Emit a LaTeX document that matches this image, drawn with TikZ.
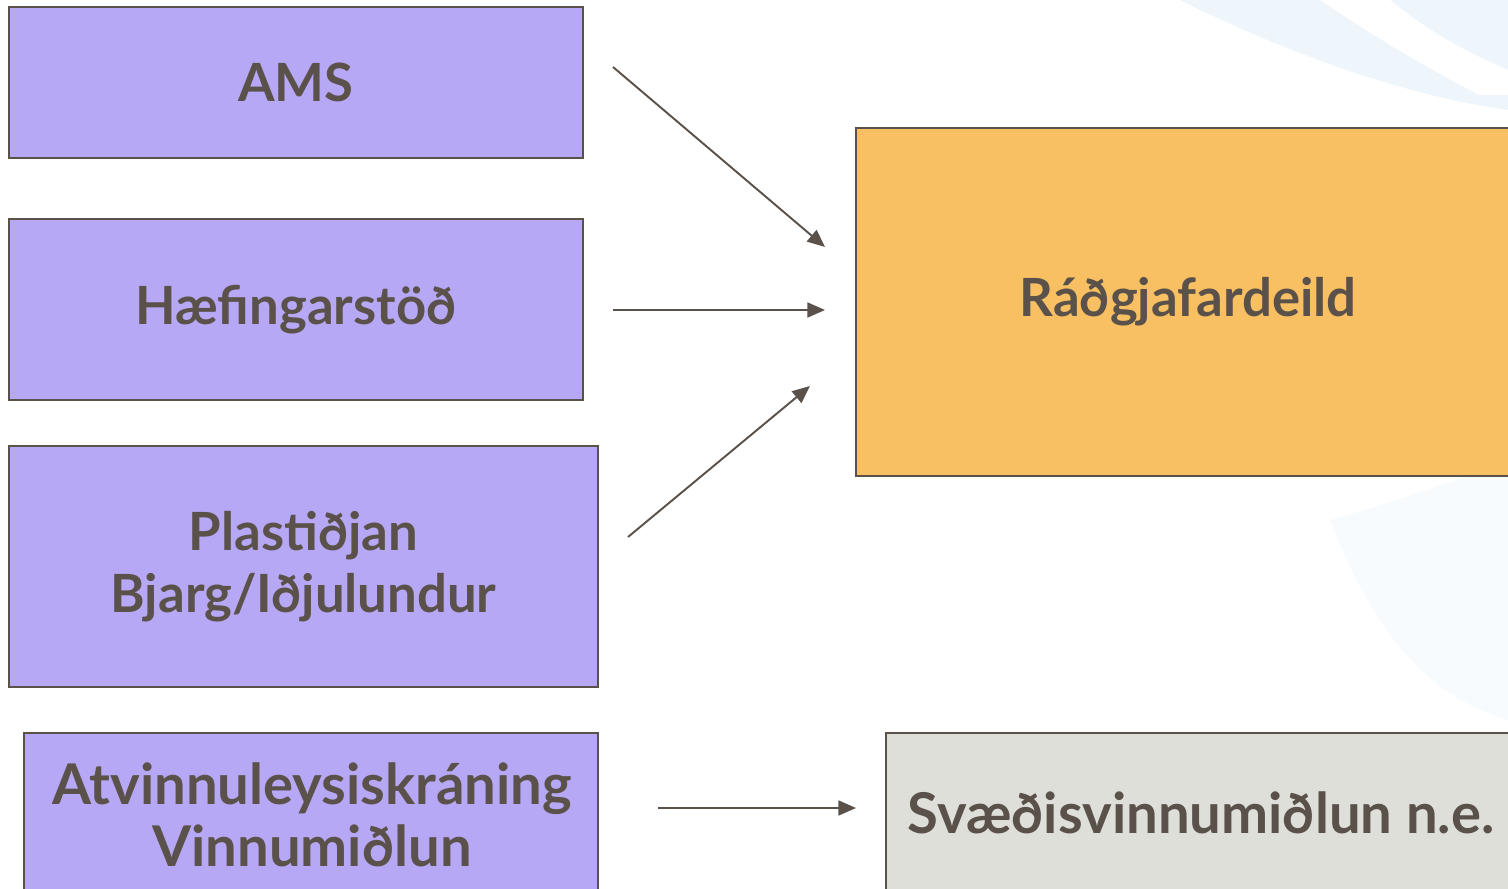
\documentclass[tikz,border=0pt]{standalone}
\usepackage{fontspec}
\setmainfont{Lato}
\usetikzlibrary{arrows.meta}
\definecolor{boxpurple}{HTML}{B7A8F5}
\definecolor{boxorange}{HTML}{F8C063}
\definecolor{boxgray}{HTML}{DFDFDA}
\definecolor{inkbrown}{HTML}{5A524A}
\definecolor{skyblue}{HTML}{EAF4FB}

\begin{document}
\begin{tikzpicture}[x=0.02cm,y=-0.02cm,
  box/.style={draw=inkbrown,line width=1.2pt,text=inkbrown,
    font=\bfseries\fontsize{30}{35}\selectfont,align=center,inner sep=0pt},
  link/.style={draw=inkbrown,line width=1.1pt,-{Triangle[length=10pt,width=8.5pt]}}]
  \useasboundingbox (0,0) rectangle (1508,889);
  \clip (0,0) rectangle (1508,889);
  % faint background
  \fill[skyblue!80] (1180,0) .. controls (1280,50) and (1400,95) .. (1508,110) -- (1508,0) -- cycle;
  \fill[white] (1320,0) .. controls (1380,40) and (1430,70) .. (1480,95) -- (1508,95) -- (1508,70) .. controls (1460,50) and (1420,25) .. (1390,0) -- cycle;
  \fill[skyblue!35] (1330,520) .. controls (1400,500) and (1460,480) .. (1508,460) -- (1508,720) .. controls (1440,700) and (1380,650) .. (1330,520) -- cycle;
  % boxes
  \node[box,fill=boxpurple,minimum width=11.48cm,minimum height=3.02cm] (ams) at (296,82.5) {AMS};
  \node[box,fill=boxpurple,minimum width=11.48cm,minimum height=3.62cm] (haef) at (296,309.5) {Hæfingarstöð};
  \node[box,fill=boxpurple,minimum width=11.78cm,minimum height=4.82cm] (plast) at (303.5,566.5) {Plastiðjan\\Bjarg/Iðjulundur};
  \node[box,fill=boxpurple,minimum width=11.48cm,minimum height=3.6cm] (atv) at (311,823) {};
  \node[text=inkbrown,font=\bfseries\fontsize{32}{35}\selectfont,align=center] (atvtext) at (312,815) {Atvinnuleysiskráning\\Vinnumiðlun};
  \node[box,fill=boxorange,minimum width=13.28cm,minimum height=6.96cm] (rad) at (1188,302) {Ráðgjafardeild};
  \node[box,fill=boxgray,minimum width=12.6cm,minimum height=3.6cm] (svaed) at (1201,823) {};
  \node[text=inkbrown,font=\bfseries\fontsize{32}{35}\selectfont] (svtext) at (1201,813) {Svæðisvinnumiðlun n.e.};
  % arrows
  \coordinate (a1) at (613,67);
  \coordinate (a2) at (613,310);
  \coordinate (a3) at (628,537);
  \coordinate (a4) at (658,808);
  \coordinate (r1) at (825,247);
  \coordinate (r2) at (825,310);
  \coordinate (r3) at (810,386);
  \coordinate (s1) at (856,808);
  \draw[link] (a1) -- (r1);
  \draw[link] (a2) -- (r2);
  \draw[link] (a3) -- (r3);
  \draw[link] (a4) -- (s1);
\end{tikzpicture}
\end{document}
